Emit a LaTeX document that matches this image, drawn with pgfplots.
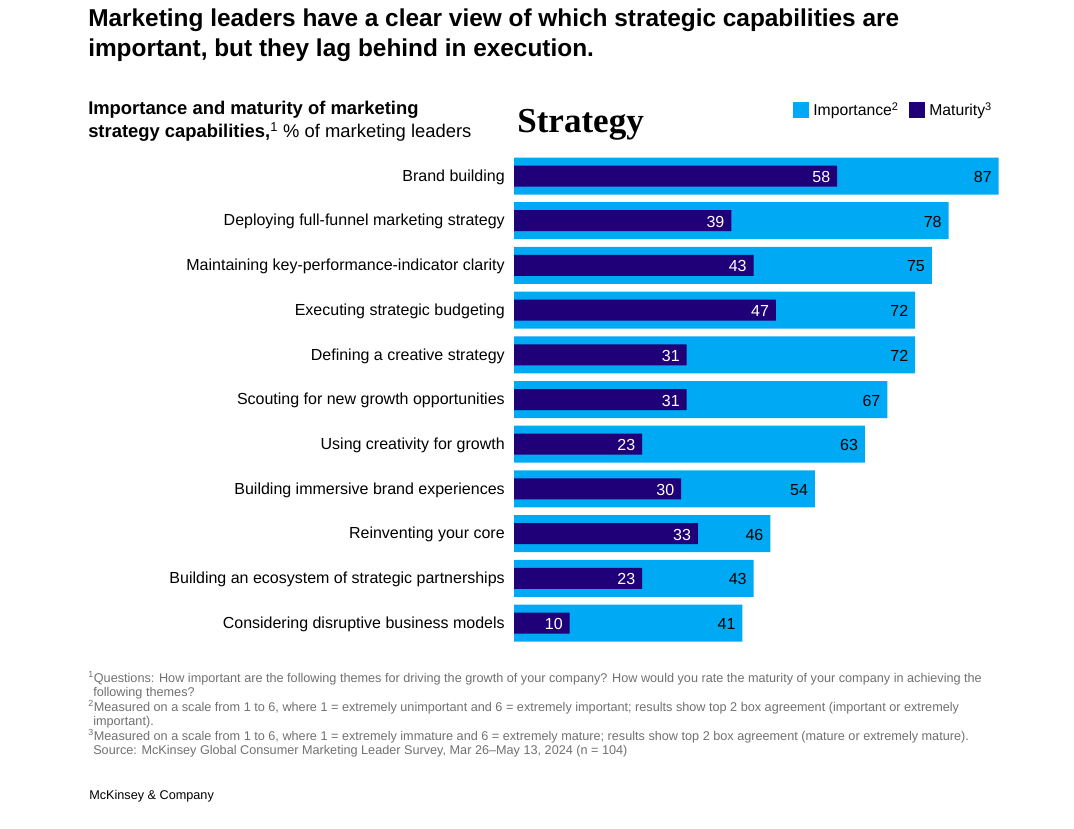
\documentclass[border=0pt]{standalone}
\usepackage{pgfplots}
\pgfplotsset{compat=1.18}
\usepackage{fontspec}
\setmainfont{Liberation Sans}
\newfontfamily\serifbold{Liberation Serif}[BoldFont={* Bold}]

\definecolor{impcol}{HTML}{00A9F4}
\definecolor{matcol}{HTML}{1F0078}
\definecolor{notegray}{HTML}{707070}

\pgfplotstableread{
idx importance maturity
0  87 58
1  78 39
2  75 43
3  72 47
4  72 31
5  67 31
6  63 23
7  54 30
8  46 33
9  43 23
10 41 10
}\capdata

\begin{document}
\begin{tikzpicture}[x=0.75pt,y=0.75pt]
% page frame, 1074 x 828 units
\path (0,0) rectangle (1074,828);

% headline
\node[anchor=base west,inner sep=0pt,font=\fontsize{18.3}{22}\selectfont\bfseries] at (88,828-27)
  {Marketing leaders have a clear view of which strategic capabilities are};
\node[anchor=base west,inner sep=0pt,font=\fontsize{18.3}{22}\selectfont\bfseries] at (88,828-57)
  {important, but they lag behind in execution.};

% chart subtitle
\node[anchor=base west,inner sep=0pt,font=\fontsize{13.8}{16}\selectfont] at (88,828-115)
  {\bfseries Importance and maturity of marketing};
\node[anchor=base west,inner sep=0pt,font=\fontsize{13.8}{16}\selectfont] at (88,828-138)
  {\textbf{strategy capabilities,}\textsuperscript{1} \% of marketing leaders};

% panel heading
\node[anchor=base west,inner sep=0pt,font=\fontsize{26.3}{30}\selectfont\serifbold\bfseries] at (517,828-133)
  {Strategy};

% legend
\fill[impcol] (793,828-102) rectangle (809,828-118);
\node[anchor=base west,inner sep=0pt,font=\fontsize{11.8}{14}\selectfont] at (813,828-116)
  {Importance\textsuperscript{2}};
\fill[matcol] (909,828-102) rectangle (925,828-118);
\node[anchor=base west,inner sep=0pt,font=\fontsize{11.8}{14}\selectfont] at (929,828-116)
  {Maturity\textsuperscript{3}};

\begin{axis}[
  at={(385.5pt,136.95pt)}, anchor=south west,
  scale only axis,
  width=362.25pt, height=368.8pt,
  xmin=0, xmax=86.7,
  ymin=-0.5, ymax=10.5,
  y dir=reverse,
  axis line style={draw=none},
  tick style={draw=none},
  xtick=\empty,
  ytick={0,...,10},
  yticklabels={Brand building,
    Deploying full-funnel marketing strategy,
    Maintaining key-performance-indicator clarity,
    Executing strategic budgeting,
    Defining a creative strategy,
    Scouting for new growth opportunities,
    Using creativity for growth,
    Building immersive brand experiences,
    Reinventing your core,
    Building an ecosystem of strategic partnerships,
    Considering disruptive business models},
  yticklabel style={font=\fontsize{12}{14}\selectfont, anchor=east, inner sep=0pt, xshift=-6.75pt, yshift=-0.8pt},
  clip=false,
  /pgf/number format/assume math mode=true,
  nodes near coords,
  point meta=explicit,
  every node near coord/.append style={anchor=east, inner sep=0pt, xshift=-5pt, yshift=-0.8pt,
     font=\fontsize{12}{14}\selectfont},
]
\addplot[xbar, bar width=27.75pt, bar shift=0pt, fill=impcol, draw=none,
  every node near coord/.append style={text=black}]
  table[x=importance, y=idx, meta=importance] {\capdata};
\addplot[xbar, bar width=15.75pt, bar shift=0pt, fill=matcol, draw=none,
  every node near coord/.append style={text=white}]
  table[x=maturity, y=idx, meta=maturity] {\capdata};
\end{axis}

% footnotes
\begin{scope}[every node/.style={anchor=base west,inner sep=0pt,text=notegray,
    font=\fontsize{9.5}{11}\selectfont}]
\node at (88,828-683) {\textsuperscript{1}Questions: How important are the following themes for driving the growth of your company? How would you rate the maturity of your company in achieving the};
\node at (93,828-697) {following themes?};
\node at (88,828-712) {\textsuperscript{2}Measured on a scale from 1 to 6, where 1 = extremely unimportant and 6 = extremely important; results show top 2 box agreement (important or extremely};
\node at (93,828-726) {important).};
\node at (88,828-741) {\textsuperscript{3}Measured on a scale from 1 to 6, where 1 = extremely immature and 6 = extremely mature; results show top 2 box agreement (mature or extremely mature).};
\node at (93,828-755) {Source: McKinsey Global Consumer Marketing Leader Survey, Mar 26--May 13, 2024 (n = 104)};
\end{scope}
\node[anchor=base west,inner sep=0pt,font=\fontsize{9.5}{11}\selectfont] at (89,828-799)
  {McKinsey \& Company};
\end{tikzpicture}
\end{document}
